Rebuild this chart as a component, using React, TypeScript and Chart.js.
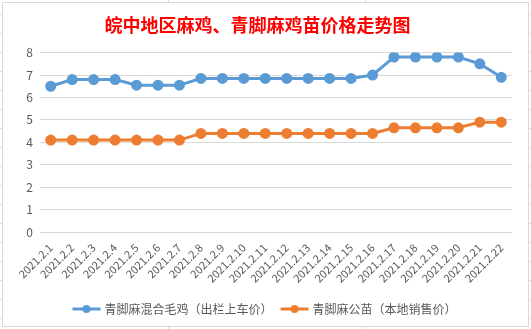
import React, { useEffect, useRef } from "react";
import { Chart, registerables } from "chart.js";

Chart.register(...registerables);

const TITLE = "皖中地区麻鸡、青脚麻鸡苗价格走势图";
const categories = [
  "2021.2.1", "2021.2.2", "2021.2.3", "2021.2.4", "2021.2.5", "2021.2.6",
  "2021.2.7", "2021.2.8", "2021.2.9", "2021.2.10", "2021.2.11", "2021.2.12",
  "2021.2.13", "2021.2.14", "2021.2.15", "2021.2.16", "2021.2.17", "2021.2.18",
  "2021.2.19", "2021.2.20", "2021.2.21", "2021.2.22",
];
const seriesNames = ["青脚麻混合毛鸡（出栏上车价）", "青脚麻公苗（本地销售价）"];
const mixedChicken = [
  6.5, 6.8, 6.8, 6.8, 6.55, 6.55, 6.55, 6.85, 6.85, 6.85, 6.85, 6.85,
  6.85, 6.85, 6.85, 7.0, 7.8, 7.8, 7.8, 7.8, 7.5, 6.9,
];
const maleChicks = [
  4.1, 4.1, 4.1, 4.1, 4.1, 4.1, 4.1, 4.4, 4.4, 4.4, 4.4, 4.4,
  4.4, 4.4, 4.4, 4.4, 4.65, 4.65, 4.65, 4.65, 4.9, 4.9,
];
const yTicks = [0, 1, 2, 3, 4, 5, 6, 7, 8];

const BLUE = "#5b9bd5";
const ORANGE = "#ed7d31";
const FONT = '"Noto Sans CJK SC", "Liberation Sans", sans-serif';

function legendIcon(color: string): HTMLCanvasElement {
  const c = document.createElement("canvas");
  c.width = 30;
  c.height = 10;
  const ctx = c.getContext("2d")!;
  ctx.strokeStyle = color;
  ctx.lineWidth = 3;
  ctx.beginPath();
  ctx.moveTo(1, 5);
  ctx.lineTo(29, 5);
  ctx.stroke();
  ctx.fillStyle = color;
  ctx.beginPath();
  ctx.arc(15, 5, 4, 0, Math.PI * 2);
  ctx.fill();
  return c;
}

const legendShift = {
  id: "legendShift",
  afterLayout(chart: any) {
    if (chart.legend) {
      chart.legend.left += 8;
      chart.legend.right += 8;
    }
  },
};

export default function App() {
  const ref = useRef<HTMLCanvasElement | null>(null);

  useEffect(() => {
    document.body.style.margin = "0";
    const icons = [legendIcon(BLUE), legendIcon(ORANGE)];
    const chart = new Chart(ref.current!, {
      type: "line",
      plugins: [legendShift],
      data: {
        labels: categories,
        datasets: [
          {
            label: seriesNames[0],
            data: mixedChicken,
            borderColor: BLUE,
            backgroundColor: BLUE,
            borderWidth: 3,
            pointRadius: 4,
            pointBackgroundColor: BLUE,
            pointBorderColor: BLUE,
            pointStyle: "circle",
            tension: 0,
          },
          {
            label: seriesNames[1],
            data: maleChicks,
            borderColor: ORANGE,
            backgroundColor: ORANGE,
            borderWidth: 3,
            pointRadius: 4,
            pointBackgroundColor: ORANGE,
            pointBorderColor: ORANGE,
            pointStyle: "circle",
            tension: 0,
          },
        ],
      },
      options: {
        animation: false,
        responsive: false,
        maintainAspectRatio: false,
        layout: { padding: { left: 0, right: 16, top: 0, bottom: 1 } },
        plugins: {
          title: {
            display: true,
            text: TITLE,
            color: "#ff0000",
            font: { family: FONT, size: 18, weight: "bold" },
            padding: { top: 11, bottom: 17 },
          },
          legend: {
            position: "bottom",
            labels: {
              color: "#595959",
              font: { family: FONT, size: 12 },
              usePointStyle: true,
              pointStyleWidth: 24,
              padding: 10,
              generateLabels: (ch: any) =>
                ch.data.datasets.map((ds: any, i: number) => ({
                  text: ds.label,
                  fillStyle: ds.borderColor,
                  strokeStyle: ds.borderColor,
                  lineWidth: 0,
                  pointStyle: icons[i],
                  datasetIndex: i,
                  hidden: false,
                  fontColor: "#595959",
                })),
            },
          },
          tooltip: { enabled: false },
        },
        scales: {
          x: {
            offset: true,
            grid: { display: false, drawTicks: false },
            border: { display: false },
            afterFit: (s: any) => {
              s.height -= 1;
            },
            ticks: {
              color: "#595959",
              font: { family: FONT, size: 11 },
              maxRotation: 45,
              minRotation: 45,
              autoSkip: false,
              padding: 9,
            },
          },
          y: {
            min: 0,
            max: 8,
            afterBuildTicks: (s: any) => {
              s.ticks = yTicks.map((v) => ({ value: v }));
            },
            afterFit: (s: any) => {
              s.width = 37;
            },
            grid: { color: "#d9d9d9", lineWidth: 1, drawTicks: false },
            border: { display: false },
            ticks: {
              color: "#595959",
              font: { family: FONT, size: 12 },
              padding: 7,
            },
          },
        },
      },
    });
    return () => chart.destroy();
  }, []);

  return (
    <div
      style={{
        position: "fixed",
        left: 0,
        top: 0,
        width: 531,
        height: 329,
        background: "#fff",
        backgroundImage:
          "repeating-linear-gradient(to bottom, transparent 0px, transparent 14px, #d9d9d9 14px, #d9d9d9 15px, transparent 15px, transparent 19px)",
        overflow: "hidden",
      }}
    >
      <div style={{ position: "absolute", left: 168, top: 0, width: 1, height: 329, background: "#d9d9d9" }} />
      <div style={{ position: "absolute", left: 365, top: 0, width: 1, height: 329, background: "#d9d9d9" }} />
      <div
        style={{
          position: "absolute",
          left: 2,
          top: 2,
          width: 527,
          height: 325,
          boxSizing: "border-box",
          border: "1px solid #d9d9d9",
          background: "#fff",
        }}
      >
        <canvas ref={ref} width={525} height={323} style={{ display: "block" }} />
      </div>
    </div>
  );
}
